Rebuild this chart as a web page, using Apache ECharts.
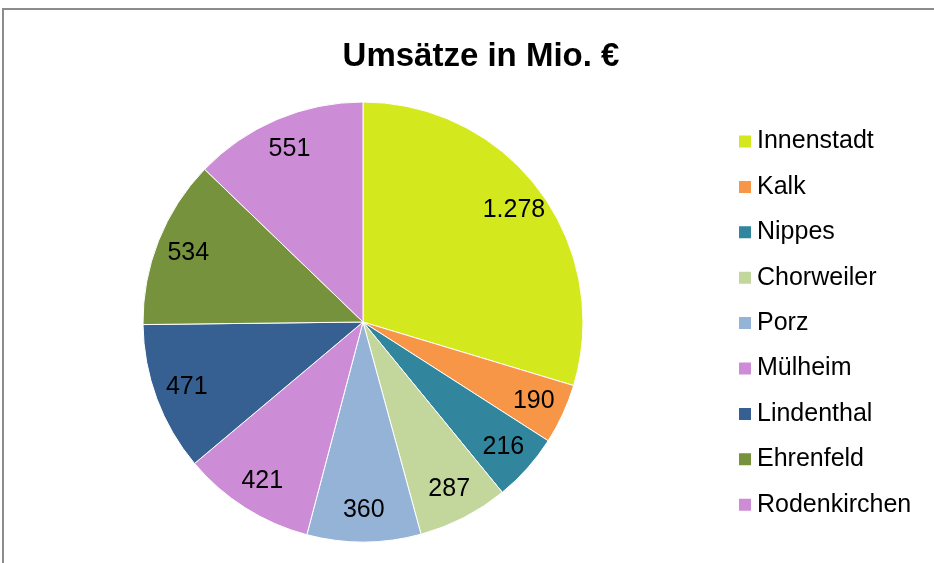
<!DOCTYPE html>
<html>
<head>
<meta charset="utf-8">
<script src="https://cdn.jsdelivr.net/npm/echarts@6/dist/echarts.min.js"></script>
<style>
  html, body { margin: 0; padding: 0; background: #fff; }
  #chart { width: 934px; height: 563px; }
</style>
</head>
<body>
<div id="chart"></div>
<script>
// Districts and revenue (Mio. €)
const districts = ["Innenstadt", "Kalk", "Nippes", "Chorweiler", "Porz", "Mülheim", "Lindenthal", "Ehrenfeld", "Rodenkirchen"];
const revenue = [1278, 190, 216, 287, 360, 421, 471, 534, 551];
const colors = ["#d4e81e", "#f79646", "#31859c", "#c3d69b", "#95b3d7", "#cc8cd6", "#366092", "#76923c", "#cc8cd6"];

// German thousands separator
const fmt = (v) => String(v).replace(/\B(?=(\d{3})+(?!\d))/g, ".");

const pieData = districts.map((name, i) => ({
  name: name,
  value: revenue[i],
  itemStyle: { color: colors[i] },
}));

const option = {
  animation: false,
  backgroundColor: "#fff",
  title: {
    text: "Umsätze in Mio. €",
    left: 476,
    top: 35,
    textAlign: "center",
    textStyle: {
      fontFamily: "Liberation Sans, Arial, sans-serif",
      fontSize: 33,
      fontWeight: "bold",
      color: "#000",
    },
  },
  legend: {
    orient: "vertical",
    left: 732,
    top: 124,
    itemWidth: 14,
    itemHeight: 14,
    itemGap: 20.4,
    icon: "rect",
    data: districts,
    textStyle: {
      fontFamily: "Liberation Sans, Arial, sans-serif",
      fontSize: 25,
      lineHeight: 25,
      color: "#000",
    },
  },
  graphic: [
    {
      type: "rect",
      shape: { x: 3, y: 9, width: 1000, height: 1000 },
      style: { fill: "none", stroke: "#8c8c8c", lineWidth: 2 },
      silent: true,
    },
  ],
  series: [
    {
      name: "Umsatz",
      type: "pie",
      center: [363, 322],
      radius: 220,
      startAngle: 90,
      clockwise: true,
      data: pieData,
      itemStyle: { borderColor: "#fff", borderWidth: 1 },
      label: { show: false },
      labelLine: { show: false },
      emphasis: { disabled: true },
    },
    {
      // transparent ring only used to place the value labels further out
      name: "labels",
      type: "pie",
      center: [363, 322],
      radius: [150, 220],
      startAngle: 90,
      clockwise: true,
      silent: true,
      data: districts.map((name, i) => ({ name: name, value: revenue[i] })),
      itemStyle: { color: "rgba(0,0,0,0)" },
      label: {
        show: true,
        position: "inside",
        formatter: (p) => fmt(p.value),
        fontFamily: "Liberation Sans, Arial, sans-serif",
        fontSize: 25,
        color: "#000",
      },
      labelLine: { show: false },
      emphasis: { disabled: true },
    },
  ],
};

const myChart = echarts.init(document.getElementById("chart"));
myChart.setOption(option);
</script>
</body>
</html>
